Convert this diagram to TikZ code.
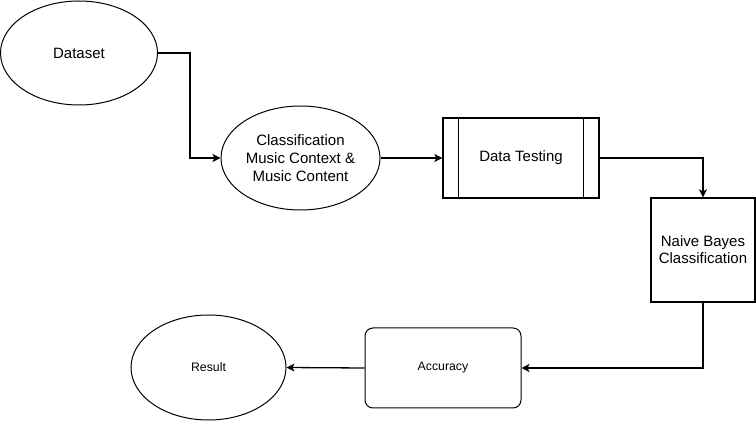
\documentclass[tikz,border=0pt]{standalone}
\usepackage{fontspec}
\setmainfont{Liberation Sans}
\usetikzlibrary{shapes.geometric,arrows.meta}
\tikzset{
  ell/.style={ellipse,draw,line width=1pt,inner sep=0pt,align=center,font=\fontsize{15}{18.3}\selectfont},
  box/.style={rectangle,draw,line width=1.3pt,inner sep=0pt,align=center,font=\fontsize{15}{17}\selectfont},
  conn/.style={line width=1.3pt,-{Stealth[length=8pt,width=8pt,inset=2pt]}},
}
\begin{document}
\begin{tikzpicture}[x=1pt,y=-1pt]
\useasboundingbox (0,0) rectangle (756,422);
\node[ell,minimum width=157pt,minimum height=104pt] (ds) at (79,53) {Dataset};
\node[ell,minimum width=159pt,minimum height=104pt] (cls) at (300.5,158) {Classification\\Music Context \&\\Music Content};
\node[box,minimum width=156pt,minimum height=80pt] (dt) at (521,158) {Data Testing};
\draw[line width=1.3pt] ([xshift=16pt]dt.north west) -- ([xshift=16pt]dt.south west);
\draw[line width=1.3pt] ([xshift=-16pt]dt.north east) -- ([xshift=-16pt]dt.south east);
\node[box,minimum width=104pt,minimum height=104pt] (nb) at (703,250) {Naive Bayes\\Classification};
\node[box,rounded corners=8pt,line width=1pt,minimum width=156pt,minimum height=80pt,font=\fontsize{12.3}{15}\selectfont] (acc) at (443,368) {Accuracy};
\node[ell,minimum width=155pt,minimum height=105pt,font=\fontsize{12.3}{15}\selectfont] (res) at (208.5,367.5) {Result};
\draw[conn] (ds.east) -- ++(32,0) |- (cls.west);
\draw[conn] (cls.east) -- (dt.west);
\draw[conn] (dt.east) -| (nb.north);
\draw[conn] (nb.south) |- (acc.east);
\draw[conn] (acc.west) -- (res.east);
\end{tikzpicture}
\end{document}
